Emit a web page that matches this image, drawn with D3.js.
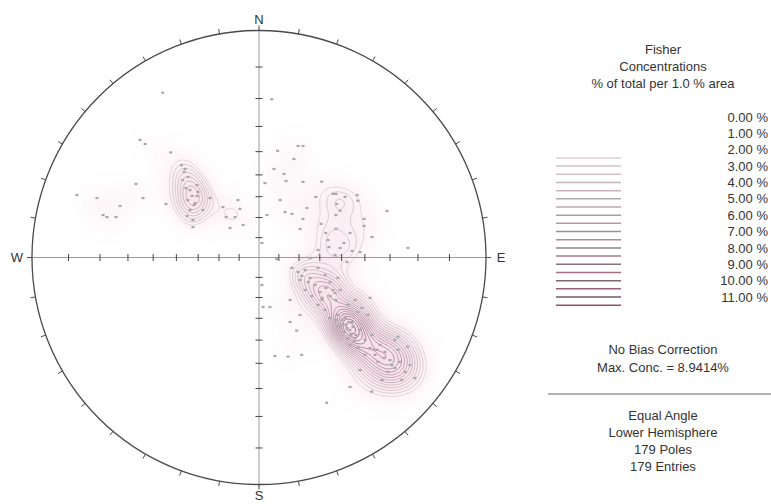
<!DOCTYPE html>
<html><head><meta charset="utf-8">
<script src="https://cdn.jsdelivr.net/npm/d3@7"></script>
<style>
body{margin:0;background:#fff;}
text{font-family:"Liberation Sans",Arial,sans-serif;font-size:13px;fill:#333;}
</style>
</head><body>
<svg id="chart" width="771" height="504"></svg>
<script>
// Pole positions on the equal-angle net (net units: primitive circle radius = 100), east / north
const poleE = [-42.4,-52.4,-50.2,-38.9,-34.1,-32.6,-31.3,-33.6,-27.4,-54.2,-80.2,-71.4,-51.1,-27.3,-21.6,-28.2,-41.0,-24.7,-15.9,-9.3,
 -68.7,-67.0,-63.0,-14.5,-8.4,-10.6,-31.7,-29.1,-7.0,-29.1,-12.8,-30.4,-29.5,-31.3,-28.6,-32.2,-26.9,-33.0,-30.4,
 5.6,8.2,17.2,19.4,15.4,6.6,11.0,11.9,19.4,27.6,2.6,9.3,25.0,32.6,33.9,37.9,43.2,43.6,34.2,21.1,11.5,14.5,35.7,33.9,3.5,
 18.1,19.4,27.3,33.9,46.3,46.3,56.4,29.4,40.1,49.8,1.3,37.4,41.0,44.5,65.6,30.8,
 7.8,4.8,1.8,16.6,7.0,12.8,18.8,29.8,40.1,49.6,62.9,65.5,61.2,48.9,33.5,
 14.5,17.2,20.3,18.1,22.5,24.7,20.3,26.9,29.1,31.3,26.0,34.8,27.8,31.3,33.9,35.7,23.3,
 34.8,36.6,38.3,40.1,37.4,41.0,42.7,39.2,35.7,41.8,44.5,37.9,40.1,43.6,33.9,
 46.7,48.9,51.1,53.3,55.5,52.4,57.7,59.9,56.8,62.1,64.3,49.8,61.2,66.5,54.2,46.7,
 42.3,45.4,48.0,43.6,39.2,29.1,31.3,26.0,
 -61.2,1.3,38.8,13.7,
 38.8,40.5,37.0,41.4,39.6,42.3,21.6,18.9,29.5,32.6,52.0,55.1,58.6,27.8,
 30.4,35.7,26.0,33.5,22.5,13.7,18.1,59.9,68.7,44.5];
const poleN = [72.6,51.8,50.0,46.3,40.7,39.0,35.5,34.1,31.9,32.4,27.5,26.2,26.2,27.1,26.2,24.0,23.6,20.9,22.2,25.3,
 18.7,17.8,17.8,17.8,21.4,17.8,18.3,16.5,14.3,13.4,13.0,29.7,27.1,25.3,23.1,30.6,28.9,37.7,20.9,
 69.7,47.0,49.1,49.1,43.4,39.0,36.8,33.7,33.3,33.4,32.8,25.3,26.7,28.0,28.0,26.7,27.5,25.0,23.6,21.8,20.0,19.2,20.6,18.7,18.7,
 12.6,17.0,14.8,12.6,17.0,13.9,20.5,10.8,10.8,9.0,6.4,6.4,2.9,2.4,4.2,4.6,
 -0.7,-21.8,-21.8,-32.2,-43.4,-43.7,-42.9,-64.0,-57.0,-59.1,-54.0,-39.3,-34.9,-17.8,-15.6,
 -4.6,-6.4,-5.5,-9.9,-9.0,-12.1,-14.3,-15.2,-7.7,-10.8,-4.6,-9.0,-18.7,-17.0,-18.7,-14.3,-17.0,
 -25.3,-27.5,-29.7,-31.9,-32.8,-28.4,-34.1,-35.5,-30.2,-37.2,-31.9,-26.7,-38.5,-39.9,-27.5,
 -36.3,-39.9,-42.9,-38.5,-41.6,-46.0,-45.2,-48.7,-50.4,-46.0,-50.4,-34.1,-40.7,-47.4,-54.0,-42.9,
 -18.7,-22.2,-25.3,-24.0,-20.9,-23.1,-26.7,-20.9,
 22.7,-12.1,-2.0,-28.4,
 -31.1,-34.1,-29.3,-30.6,-28.4,-35.5,-10.8,-8.1,-13.4,-14.3,-40.7,-44.3,-47.4,-17.8,
 7.7,4.2,3.3,1.1,-0.2,-18.7,-25.3,-36.3,-53.1,-49.6];

// Contour levels (% of total per 1.0 % area) and legend labels
const contourLevels = d3.range(0.5, 11.51, 0.5);
const legendLabels = ["0.00 %","1.00 %","2.00 %","3.00 %","4.00 %","5.00 %","6.00 %","7.00 %","8.00 %","9.00 %","10.00 %","11.00 %"];
const legendValues = [0,1,2,3,4,5,6,7,8,9,10,11];
const titleLines = ["Fisher","Concentrations","% of total per 1.0 % area"];
const biasLines = ["No Bias Correction","Max. Conc. = 8.9414%"];
const netLines = ["Equal Angle","Lower Hemisphere","179 Poles","179 Entries"];
const cardinals = [{t:"N",a:0},{t:"E",a:90},{t:"S",a:180},{t:"W",a:270}];
const kappa = 100;

const svg = d3.select("#chart");
const cx = 259, cy = 257.5, R = 227;
const sx = d3.scaleLinear().domain([-100,100]).range([cx-R, cx+R]);
const sy = d3.scaleLinear().domain([-100,100]).range([cy+R, cy-R]);
const rad = Math.PI/180;

// inverse equal-angle projection -> unit vector (east, north, down)
function toVec(x, y){
  const u = x/100, v = y/100, rho = Math.hypot(u, v);
  if (rho === 0) return [0,0,1];
  const th = 2*Math.atan(rho);
  return [Math.sin(th)*u/rho, Math.sin(th)*v/rho, Math.cos(th)];
}
const poles = poleE.map((e,i)=>toVec(e, poleN[i]));
const N = poles.length;

// Fisher density grid
const n = 200, lo = -103, hi = 103, step = (hi-lo)/(n-1);
const values = new Float64Array(n*n);
for (let j=0;j<n;j++){
  const y = hi - j*step;
  for (let i=0;i<n;i++){
    const x = lo + i*step;
    const v = toVec(x,y);
    let s = 0;
    for (const p of poles){
      const c = v[0]*p[0]+v[1]*p[1]+v[2]*p[2];
      s += Math.exp(kappa*(c-1)) + Math.exp(-kappa*(c+1));
    }
    values[j*n+i] = kappa/N*s/(1-Math.exp(-2*kappa));
  }
}
const gridPath = d3.geoPath(d3.geoTransform({
  point(px, py){ this.stream.point(sx(lo + (px-0.5)*step), sy(hi - (py-0.5)*step)); }
}));

function lineColor(L){
  if (L <= 2) return "#ffffff";
  const t = (L-2)/9.5;
  return (L % 1 === 0) ? d3.interpolateRgb("#d6d0d3", "#6a5561")(t)
                       : d3.interpolateRgb("#e3d3d8", "#94506a")(t);
}

const defs = svg.append("defs");
defs.append("clipPath").attr("id","net").append("circle").attr("cx",cx).attr("cy",cy).attr("r",R);
defs.append("filter").attr("id","blur").attr("x","-30%").attr("y","-30%").attr("width","160%").attr("height","160%")
  .append("feGaussianBlur").attr("stdDeviation",9);

const plot = svg.append("g").attr("clip-path","url(#net)");
// soft halo
const halo = d3.contours().size([n,n]).thresholds([1.2,2.2,3.2,4.2,5.2])(values);
plot.append("g").attr("filter","url(#blur)").selectAll("path").data(halo).join("path")
  .attr("d", gridPath).attr("fill","#e59bb1").attr("fill-opacity",0.065).attr("stroke","none");
// contour lines
const cont = d3.contours().size([n,n]).thresholds(contourLevels.filter(l=>l>2))(values);
plot.append("g").selectAll("path").data(cont).join("path")
  .attr("d", gridPath).attr("fill","none")
  .attr("stroke", d=>lineColor(d.value)).attr("stroke-width",0.8);

// axes
const axG = svg.append("g");
axG.append("line").attr("x1",sx(-100)-2).attr("x2",sx(100)+2).attr("y1",cy).attr("y2",cy).attr("stroke","#9a9a9a").attr("stroke-width",1);
axG.append("line").attr("x1",cx).attr("x2",cx).attr("y1",sy(100)-2).attr("y2",sy(-100)+2).attr("stroke","#9a9a9a").attr("stroke-width",1);
const tickD = d3.range(10, 81, 10).map(a=>100*Math.tan(a/2*rad));
tickD.forEach(d=>{
  [d,-d].forEach(s=>{
    axG.append("line").attr("x1",sx(s)).attr("x2",sx(s)).attr("y1",cy-3.5).attr("y2",cy+3.5).attr("stroke","#444");
    axG.append("line").attr("y1",sy(s)).attr("y2",sy(s)).attr("x1",cx-3.5).attr("x2",cx+3.5).attr("stroke","#444");
  });
});

// primitive circle + outer ticks
svg.append("circle").attr("cx",cx).attr("cy",cy).attr("r",R).attr("fill","none").attr("stroke","#4a4a4a").attr("stroke-width",1.3);
svg.append("g").selectAll("line").data(d3.range(0,360,10)).join("line")
  .attr("x1",a=>cx+R*Math.sin(a*rad)).attr("y1",a=>cy-R*Math.cos(a*rad))
  .attr("x2",a=>cx+(R+5)*Math.sin(a*rad)).attr("y2",a=>cy-(R+5)*Math.cos(a*rad))
  .attr("stroke","#4a4a4a").attr("stroke-width",1);

// cardinal labels
svg.append("g").selectAll("text").data(cardinals).join("text")
  .attr("x",d=>cx+(R+15)*Math.sin(d.a*rad)).attr("y",d=>cy-(R+11)*Math.cos(d.a*rad))
  .attr("text-anchor","middle").attr("dy","0.36em").text(d=>d.t);

// poles
svg.append("g").selectAll("rect").data(poleE.map((e,i)=>[e,poleN[i]])).join("rect")
  .attr("x",d=>sx(d[0])-1.5).attr("y",d=>sy(d[1])-1.1).attr("width",3).attr("height",2.2)
  .attr("fill","#a8a8a8");

// legend
const lx = 663;
svg.append("g").selectAll("text").data(titleLines).join("text")
  .attr("x",lx).attr("y",(d,i)=>49+i*17).attr("dy","0.36em").attr("text-anchor","middle").text(d=>d);
const ly = d3.scaleLinear().domain([0,11]).range([117,297]);
svg.append("g").selectAll("text").data(legendLabels).join("text")
  .attr("x",768).attr("y",(d,i)=>ly(legendValues[i])).attr("dy","0.36em").attr("text-anchor","end").text(d=>d);
svg.append("g").selectAll("line").data(contourLevels).join("line")
  .attr("x1",556).attr("x2",621).attr("y1",d=>ly(d)).attr("y2",d=>ly(d))
  .attr("stroke",d=>lineColor(d)).attr("stroke-width",1.5);
svg.append("g").selectAll("text").data(biasLines).join("text")
  .attr("x",lx).attr("y",(d,i)=>349+i*18).attr("dy","0.36em").attr("text-anchor","middle").text(d=>d);
svg.append("line").attr("x1",548).attr("x2",771).attr("y1",394).attr("y2",394).attr("stroke","#666").attr("stroke-width",1.2);
svg.append("g").selectAll("text").data(netLines).join("text")
  .attr("x",lx).attr("y",(d,i)=>415+i*17).attr("dy","0.36em").attr("text-anchor","middle").text(d=>d);
</script>
</body></html>
